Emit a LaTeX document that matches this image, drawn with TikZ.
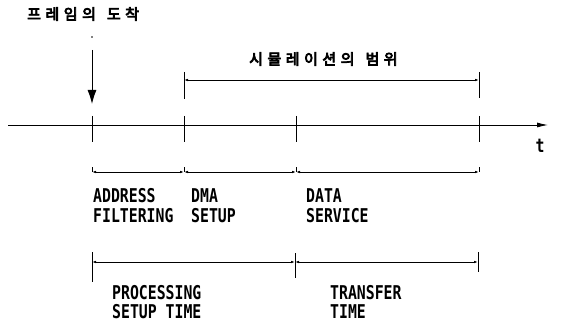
\documentclass[tikz,border=0pt]{standalone}
\usepackage{fontspec}
\usetikzlibrary{arrows.meta}
\newfontfamily\labfont[FakeStretch=0.78]{DejaVu Sans Mono}
\newfontfamily\kofont[FakeBold=5]{Noto Sans CJK KR}
\newcommand{\kg}{\hspace{4.5pt}}
\newcommand{\kw}{\hspace{11pt}}
\tikzset{
  axisline/.style={line width=0.9pt},
  tickmark/.style={line width=0.8pt},
  bracket/.style={line width=0.8pt, {Latex[length=4pt,width=2.6pt]}-{Latex[length=4pt,width=2.6pt]}},
  lab/.style={font=\labfont\bfseries\fontsize{19}{20}\selectfont, anchor=base west, inner sep=0pt},
  kolab/.style={font=\kofont\fontsize{15}{15}\selectfont, inner sep=0pt}
}
\begin{document}
\begin{tikzpicture}[x=1pt,y=-1pt]
\useasboundingbox (0,0) rectangle (567,323);
% axis
\coordinate (a0) at (8,125);
\coordinate (a1) at (548,125);
\draw[axisline,-{Latex[length=11pt,width=5pt]}] (a0) -- (a1);
\node[lab, anchor=base] (t) at (540,153) {t};
% axis ticks
\foreach \n/\x in {p/92,q/184,r/296,s/479}{
  \coordinate (\n u) at (\x,116);
  \coordinate (\n d) at (\x,142);
  \draw[tickmark] (\n u) -- (\n d);
}
% arrival arrow
\node[kolab, anchor=west] (arr) at (27,14) {프\kg 레\kg 임\kg 의\kw 도\kg 착};
\fill (92,37) circle (0.9pt);
\coordinate (ar0) at (92,50);
\coordinate (ar1) at (92,104);
\draw[line width=0.9pt,-{Latex[length=14pt,width=9pt]}] (ar0) -- (ar1);
% simulation range
\node[kolab, anchor=west] (sim) at (249,59) {시\kg 뮬\kg 레\kg 이\kg 션\kg 의\kw 범\kg 위};
\coordinate (su0) at (184,72); \coordinate (sd0) at (184,99);
\coordinate (su1) at (479,72); \coordinate (sd1) at (479,98);
\draw[tickmark] (su0) -- (sd0);
\draw[tickmark] (su1) -- (sd1);
\coordinate (sb0) at (184,80); \coordinate (sb1) at (479,80);
\draw[bracket] (sb0) -- (sb1);
% second row bracket
\foreach \n/\x in {m0/92,m1/184,m2/296,m3/479}{
  \coordinate (\n) at (\x,172);
  \coordinate (\n t) at (\x,167);
  \draw[tickmark] (\n) -- (\n t);
}
\draw[bracket] (m0) -- (m1);
\draw[bracket] (m1) -- (m2);
\draw[bracket] (m2) -- (m3);
\node[lab] (addr) at (93,202) {ADDRESS};
\node[lab] (filt) at (93,222) {FILTERING};
\node[lab] (dma) at (191,202) {DMA};
\node[lab] (dmas) at (191,222) {SETUP};
\node[lab] (data) at (306,202) {DATA};
\node[lab] (serv) at (306,222) {SERVICE};
% third row bracket
\coordinate (b0u) at (92,252); \coordinate (b0d) at (92,282);
\coordinate (b1u) at (295,253); \coordinate (b1d) at (295,278);
\coordinate (b2u) at (478,252); \coordinate (b2d) at (478,272);
\draw[tickmark] (b0u) -- (b0d);
\draw[tickmark] (b1u) -- (b1d);
\draw[tickmark] (b2u) -- (b2d);
\coordinate (bb0) at (92,262); \coordinate (bb1) at (295,262); \coordinate (bb2) at (478,262);
\draw[bracket] (bb0) -- (bb1);
\draw[bracket] (bb1) -- (bb2);
\node[lab] (proc) at (112,299) {PROCESSING};
\node[lab] (setup) at (112,318.5) {SETUP TIME};
\node[lab] (trans) at (330,299) {TRANSFER};
\node[lab] (time) at (330,318.5) {TIME};
\end{tikzpicture}
\end{document}
